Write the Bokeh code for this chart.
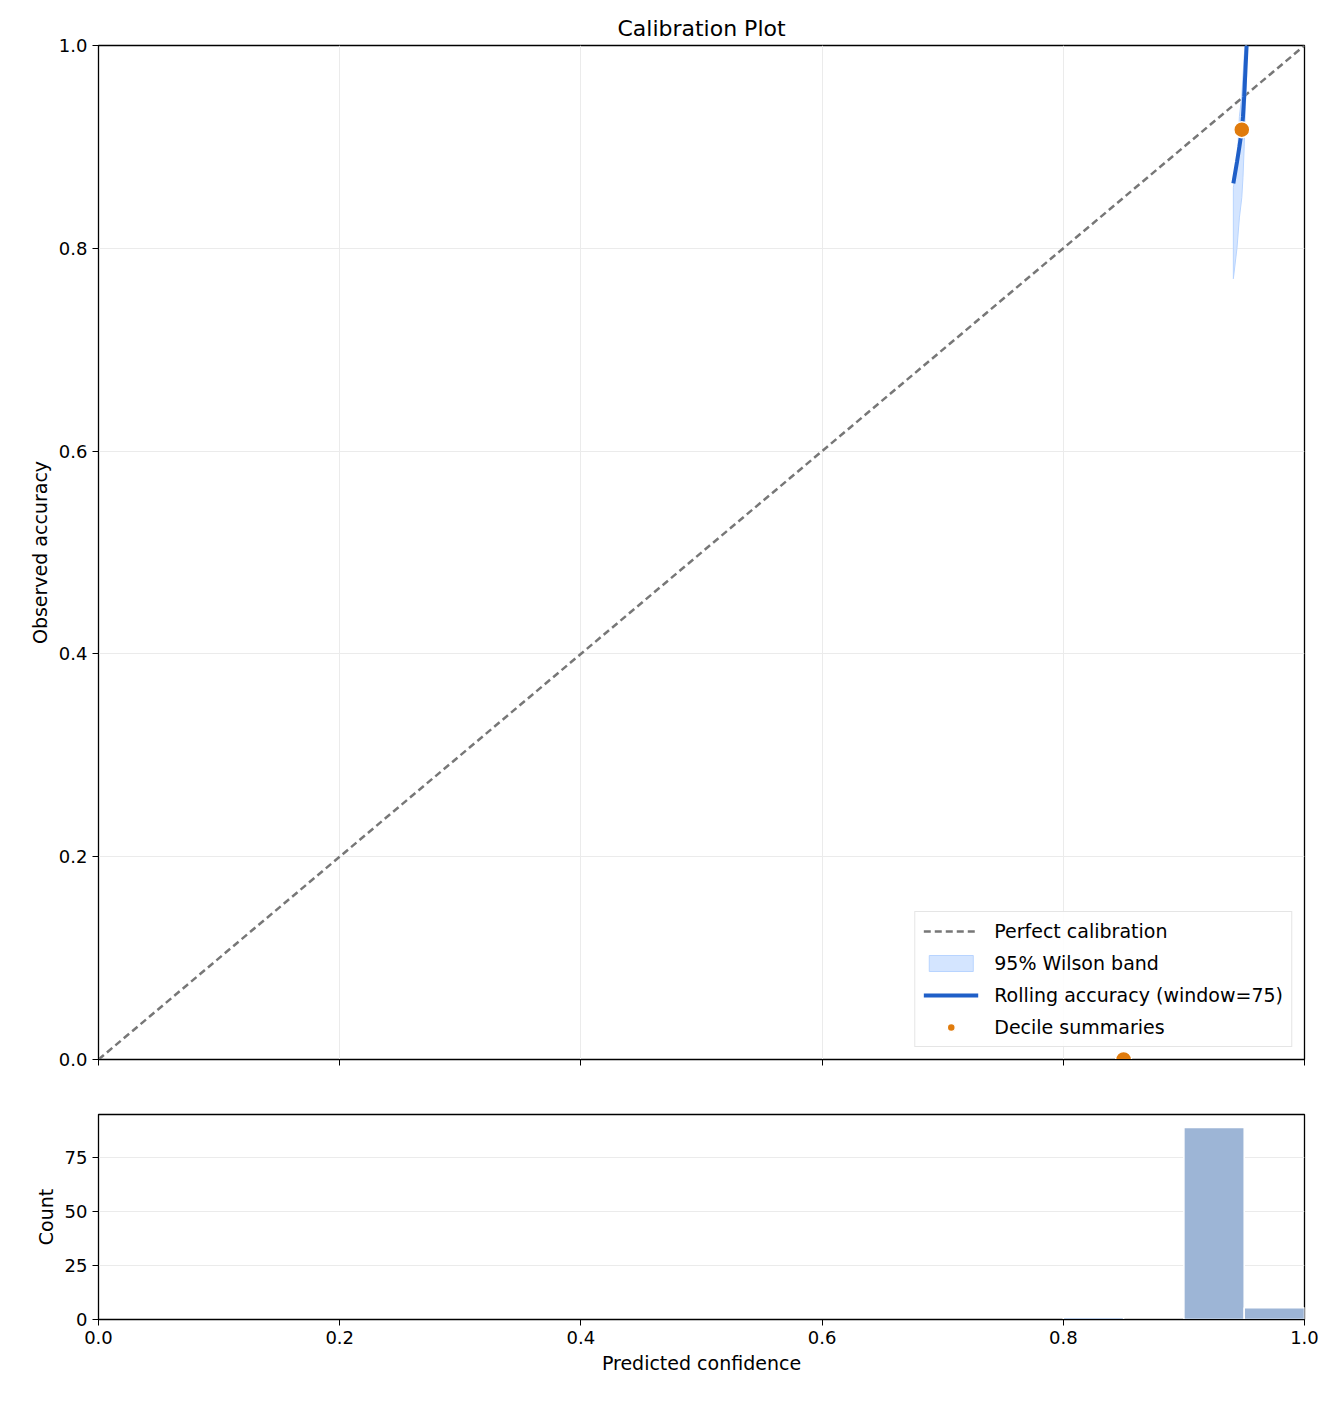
from bokeh.plotting import figure
from bokeh.layouts import column
from bokeh.embed import file_html
from bokeh.resources import INLINE
from bokeh.models import Legend, LegendItem, FixedTicker, Range1d, CustomJSTickFormatter

diag_x = [0.0, 1.0]
diag_y = [0.0, 1.0]
roll_x = [0.941, 0.944, 0.946, 0.948, 0.949, 0.950, 0.951, 0.952]
roll_y = [0.864, 0.885, 0.900, 0.916, 0.930, 0.950, 0.975, 1.0]
band_lo = [0.77, 0.80, 0.83, 0.85, 0.87, 0.90, 0.94, 0.97]
band_hi = [0.86, 0.88, 0.93, 0.95, 0.97, 0.99, 1.0, 1.0]
dec_x = [0.948, 0.85]
dec_y = [0.917, 0.0]
bin_left = [0.80, 0.85, 0.90, 0.95]
bin_right = [0.85, 0.90, 0.95, 1.00]
bin_count = [1, 0, 89, 5.5]

FONT = "DejaVu Sans"

def style(p):
    p.outline_line_color = "black"
    p.outline_line_width = 1.3
    for ax in (p.xaxis[0], p.yaxis[0]):
        ax.major_label_text_font = FONT
        ax.major_label_text_font_size = "18px"
        ax.major_label_text_color = "black"
        ax.axis_label_text_font = FONT
        ax.axis_label_text_font_size = "19px"
        ax.axis_label_text_font_style = "normal"
        ax.axis_label_text_color = "black"
        ax.minor_tick_line_color = None
        ax.major_tick_in = 0
        ax.major_tick_out = 6
        ax.major_tick_line_color = "black"
        ax.axis_line_color = "black"
    p.grid.grid_line_color = "#ebebeb"

p = figure(frame_width=1206, frame_height=1014, min_border_left=98, min_border_right=20,
           min_border_top=45, min_border_bottom=20,
           x_range=Range1d(0, 1), y_range=Range1d(0, 1),
           output_backend="svg", toolbar_location=None, title="Calibration Plot")
p.title.align = "center"
p.title.text_font = FONT
p.title.text_font_size = "22px"
p.title.text_font_style = "normal"
p.title.text_color = "black"
style(p)
p.yaxis.axis_label = "Observed accuracy"
p.xaxis.ticker = FixedTicker(ticks=[0, 0.2, 0.4, 0.6, 0.8, 1.0])
p.yaxis.ticker = FixedTicker(ticks=[0, 0.2, 0.4, 0.6, 0.8, 1.0])
p.xaxis.formatter = CustomJSTickFormatter(code="return '';")
p.yaxis.formatter = CustomJSTickFormatter(code="return tick.toFixed(1);")

r1 = p.line(diag_x, diag_y, line_color="#777777", line_width=2.5, line_dash="7 4")
r2 = p.varea(x=roll_x, y1=band_lo, y2=band_hi, fill_color="#cfe2ff", fill_alpha=0.9)
r2b = p.patch(roll_x + roll_x[::-1], band_hi + band_lo[::-1], fill_alpha=0, line_color="#b8d4ff", line_width=1)
r3 = p.line(roll_x, roll_y, line_color="#1f5fc8", line_width=4)
r4 = p.scatter(dec_x, dec_y, size=16, fill_color="#e07b0c", line_color="white", line_width=1.5)

legend = Legend(items=[
    LegendItem(label="Perfect calibration", renderers=[r1]),
    LegendItem(label="95% Wilson band", renderers=[r2, r2b]),
    LegendItem(label="Rolling accuracy (window=75)", renderers=[r3]),
    LegendItem(label="Decile summaries", renderers=[r4]),
], location="bottom_right")
legend.label_text_font = FONT
legend.label_text_font_size = "19px"
legend.label_text_color = "black"
legend.border_line_color = "#cccccc"
legend.border_line_width = 1.2
legend.background_fill_alpha = 0.9
legend.margin = 12
legend.padding = 8
legend.spacing = 10
legend.glyph_width = 55
legend.label_standoff = 16
p.add_layout(legend)

h = figure(frame_width=1206, frame_height=205, min_border_left=98, min_border_right=20,
           min_border_top=35, x_range=p.x_range, y_range=Range1d(0, 95),
           output_backend="svg", toolbar_location=None)
style(h)
h.quad(left=bin_left, right=bin_right, top=bin_count, bottom=0,
       fill_color="#9db5d6", line_color="white", line_width=1.5)
h.xaxis.axis_label = "Predicted confidence"
h.yaxis.axis_label = "Count"
h.xaxis.ticker = FixedTicker(ticks=[0, 0.2, 0.4, 0.6, 0.8, 1.0])
h.yaxis.ticker = FixedTicker(ticks=[0, 25, 50, 75])
h.xaxis.formatter = CustomJSTickFormatter(code="return tick.toFixed(1);")
h.xgrid.grid_line_color = None

open("out.html", "w").write(file_html(column(p, h, spacing=0), INLINE))
